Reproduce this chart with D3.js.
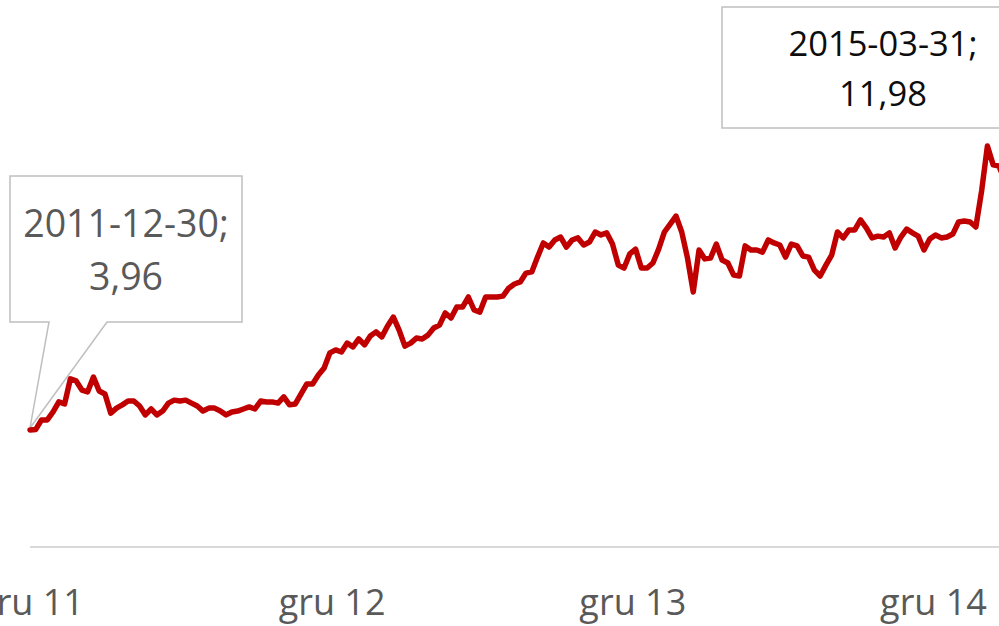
<!DOCTYPE html>
<html>
<head>
<meta charset="utf-8">
<script src="https://cdn.jsdelivr.net/npm/d3@7/dist/d3.min.js"></script>
<style>
  html, body { margin: 0; padding: 0; background: #fff; overflow: hidden; }
  svg { display: block; }
</style>
</head>
<body>
<svg id="chart" width="999" height="626"></svg>
<script>
// ---- data (weekly readings from the picture) ----
const dates = [
  "2011-12-30",
  "2012-01-06","2012-01-13","2012-01-20","2012-01-27","2012-02-03","2012-02-10","2012-02-17","2012-02-24",
  "2012-03-02","2012-03-09","2012-03-16","2012-03-23","2012-03-30","2012-04-06","2012-04-13","2012-04-20",
  "2012-04-27","2012-05-04","2012-05-11","2012-05-18","2012-05-25","2012-06-01","2012-06-08","2012-06-15",
  "2012-06-22","2012-06-29","2012-07-06","2012-07-13","2012-07-20","2012-07-27","2012-08-03","2012-08-10",
  "2012-08-17","2012-08-24","2012-08-31","2012-09-07","2012-09-14","2012-09-21","2012-09-28","2012-10-05",
  "2012-10-12","2012-10-19","2012-10-26","2012-11-02","2012-11-09","2012-11-16","2012-11-23","2012-11-30",
  "2012-12-07","2012-12-14","2012-12-21","2012-12-28",
  "2013-01-04","2013-01-11","2013-01-18","2013-01-25","2013-02-01","2013-02-08","2013-02-15","2013-02-22",
  "2013-03-01","2013-03-08","2013-03-15","2013-03-22","2013-03-29","2013-04-05","2013-04-12","2013-04-19",
  "2013-04-26","2013-05-03","2013-05-10","2013-05-17","2013-05-24","2013-05-31","2013-06-07","2013-06-14",
  "2013-06-21","2013-06-28","2013-07-05","2013-07-12","2013-07-19","2013-07-26","2013-08-02","2013-08-09",
  "2013-08-16","2013-08-23","2013-08-30","2013-09-06","2013-09-13","2013-09-20","2013-09-27","2013-10-04",
  "2013-10-11","2013-10-18","2013-10-25","2013-11-01","2013-11-08","2013-11-15","2013-11-22","2013-11-29",
  "2013-12-06","2013-12-13","2013-12-20","2013-12-27",
  "2014-01-03","2014-01-10","2014-01-17","2014-01-24","2014-01-31","2014-02-07","2014-02-14","2014-02-21",
  "2014-02-28","2014-03-07","2014-03-14","2014-03-21","2014-03-28","2014-04-04","2014-04-11","2014-04-18",
  "2014-04-25","2014-05-02","2014-05-09","2014-05-16","2014-05-23","2014-05-30","2014-06-06","2014-06-13",
  "2014-06-20","2014-06-27","2014-07-04","2014-07-11","2014-07-18","2014-07-25","2014-08-01","2014-08-08",
  "2014-08-15","2014-08-22","2014-08-29","2014-09-05","2014-09-12","2014-09-19","2014-09-26","2014-10-03",
  "2014-10-10","2014-10-17","2014-10-24","2014-10-31","2014-11-07","2014-11-14","2014-11-21","2014-11-28",
  "2014-12-05","2014-12-12","2014-12-19","2014-12-26",
  "2015-01-02","2015-01-09","2015-01-16","2015-01-23","2015-01-30","2015-02-06","2015-02-13","2015-02-20",
  "2015-02-27","2015-03-06","2015-03-13","2015-03-20","2015-03-27","2015-03-31"
];
const values = [
  3.96,
  3.98,4.30,4.30,4.57,4.91,4.84,5.69,5.62,
  5.31,5.25,5.75,5.28,5.18,4.53,4.70,4.81,
  4.94,4.94,4.77,4.47,4.67,4.47,4.60,4.87,
  4.97,4.94,4.97,4.87,4.77,4.60,4.70,4.70,
  4.60,4.47,4.57,4.60,4.67,4.74,4.67,4.94,
  4.91,4.91,4.87,5.08,4.81,4.84,5.18,5.52,
  5.52,5.82,6.06,6.57,
  6.67,6.60,6.90,6.77,7.04,6.84,7.14,7.28,
  7.11,7.48,7.78,7.34,6.80,6.90,7.07,7.04,
  7.17,7.41,7.51,7.92,7.75,8.12,8.12,8.46,
  8.02,7.95,8.46,8.46,8.46,8.49,8.76,8.90,
  8.97,9.27,9.31,9.81,10.29,10.15,10.39,10.49,
  10.15,10.39,10.46,10.22,10.32,10.66,10.56,10.63,
  10.25,9.54,9.44,9.92,
  10.08,9.44,9.44,9.61,10.08,10.66,10.93,11.20,
  10.66,9.78,8.63,10.05,9.75,9.78,10.25,9.71,
  9.61,9.20,9.17,10.19,10.05,10.05,9.98,10.39,
  10.29,10.22,9.81,10.25,10.19,9.85,9.81,9.37,
  9.17,9.54,9.88,10.66,10.46,10.73,10.73,11.07,
  10.80,10.46,10.52,10.49,10.63,10.12,10.49,10.76,
  10.63,10.52,10.05,10.42,
  10.56,10.46,10.49,10.59,11.00,11.03,11.00,10.83,
  12.05,13.57,12.93,12.89,12.42,11.98
];
const tickDates = ["2011-12-30","2012-12-30","2013-12-30","2014-12-30"];
const tickLabels = ["gru 11","gru 12","gru 13","gru 14"];
const firstLabel = ["2011-12-30;", "3,96"];
const lastLabel = ["2015-03-31;", "11,98"];
const yDomain = [0, 14];

// ---- chart ----
const parse = d3.utcParse("%Y-%m-%d");
const data = dates.map((d, i) => ({ date: parse(d), value: values[i] }));

const svg = d3.select("#chart");
const x = d3.scaleUtc()
  .domain([parse(dates[0]), parse(dates[dates.length - 1])])
  .range([30, 1008]);
const y = d3.scaleLinear().domain(yDomain).range([547, 547 - 14 * 29.55]);

// x axis
const xAxis = d3.axisBottom(x)
  .tickValues(tickDates.map(parse))
  .tickFormat((d, i) => tickLabels[i])
  .tickSize(0)
  .tickPadding(0);
const gx = svg.append("g").attr("transform", `translate(0,${y(0)})`).call(xAxis);
gx.select(".domain").remove();
gx.append("line")
  .attr("x1", x(parse(dates[0]))).attr("x2", 1010)
  .attr("y1", 0).attr("y2", 0)
  .attr("stroke", "#d9d9d9").attr("stroke-width", 2);
gx.selectAll(".tick text")
  .attr("y", 68)
  .attr("dy", 0)
  .attr("fill", "#595959")
  .style("font-family", "'Open Sans', sans-serif")
  .style("font-size", "36px");

// first point callout (drawn below line)
const p0 = data[0];
const px0 = x(p0.date), py0 = y(p0.value);
const b1 = { x1: 10, y1: 176, x2: 242, y2: 322 };
svg.append("path")
  .attr("d", `M${b1.x1},${b1.y1} L${b1.x2},${b1.y1} L${b1.x2},${b1.y2} L107,${b1.y2} L${px0},${py0 - 2} L49,${b1.y2} L${b1.x1},${b1.y2} Z`)
  .attr("fill", "#fff")
  .attr("stroke", "#bfbfbf")
  .attr("stroke-width", 1.5);
const t1 = svg.append("text")
  .attr("text-anchor", "middle")
  .attr("fill", "#595959")
  .style("font-family", "'Open Sans', sans-serif")
  .style("font-size", "37.5px");
t1.append("tspan").attr("x", 126).attr("y", 237).text(firstLabel[0]);
t1.append("tspan").attr("x", 126).attr("y", 290).text(firstLabel[1]);

// line
const line = d3.line()
  .x(d => x(d.date))
  .y(d => y(d.value))
  .curve(d3.curveLinear);
svg.append("path")
  .datum(data)
  .attr("d", line)
  .attr("fill", "none")
  .attr("stroke", "#c00000")
  .attr("stroke-width", 5.5)
  .attr("stroke-linejoin", "round")
  .attr("stroke-linecap", "round");

// last point callout
svg.append("rect")
  .attr("x", 722).attr("y", 7)
  .attr("width", 322).attr("height", 121)
  .attr("fill", "#fff")
  .attr("stroke", "#bfbfbf")
  .attr("stroke-width", 1.5);
const t2 = svg.append("text")
  .attr("text-anchor", "middle")
  .attr("fill", "#0d0d0d")
  .style("font-family", "'Open Sans', sans-serif")
  .style("font-size", "34.5px");
t2.append("tspan").attr("x", 883).attr("y", 56).text(lastLabel[0]);
t2.append("tspan").attr("x", 883).attr("y", 106).text(lastLabel[1]);
</script>
</body>
</html>
